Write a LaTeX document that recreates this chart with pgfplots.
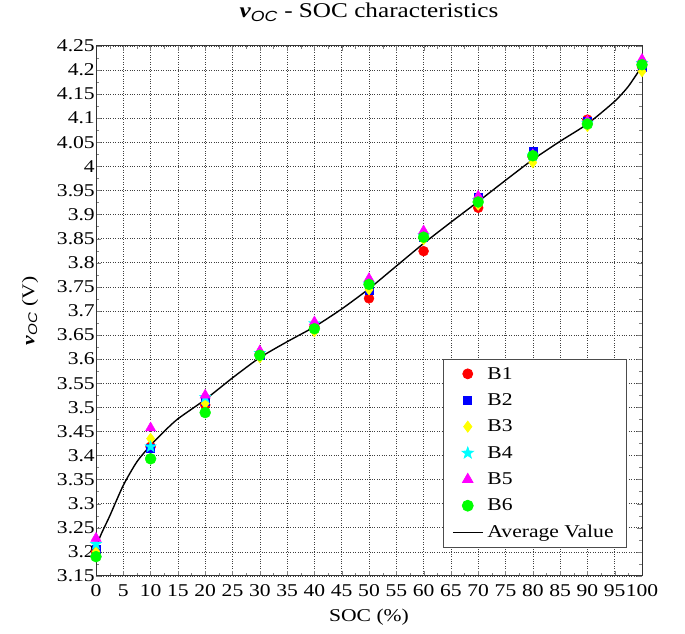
\documentclass[border=0pt]{standalone}
\usepackage{fontspec}
\setmainfont{Liberation Serif}[FakeStretch=1.2]
\setsansfont{Liberation Sans}[FakeStretch=1.2]
\usepackage{pgfplots}
\pgfplotsset{compat=1.18}

\definecolor{cB1}{RGB}{255,0,0}
\definecolor{cB2}{RGB}{0,0,255}
\definecolor{cB3}{RGB}{255,255,0}
\definecolor{cB4}{RGB}{0,255,255}
\definecolor{cB5}{RGB}{255,0,255}
\definecolor{cB6}{RGB}{0,255,0}

% filled five point star (MATLAB 'p')
\pgfdeclareplotmark{pentastar}{%
  \pgfpathmoveto{\pgfpoint{0pt}{\pgfplotmarksize}}%
  \pgfpathlineto{\pgfpoint{-0.235\pgfplotmarksize}{0.324\pgfplotmarksize}}%
  \pgfpathlineto{\pgfpoint{-0.951\pgfplotmarksize}{0.309\pgfplotmarksize}}%
  \pgfpathlineto{\pgfpoint{-0.380\pgfplotmarksize}{-0.124\pgfplotmarksize}}%
  \pgfpathlineto{\pgfpoint{-0.588\pgfplotmarksize}{-0.809\pgfplotmarksize}}%
  \pgfpathlineto{\pgfpoint{0pt}{-0.4\pgfplotmarksize}}%
  \pgfpathlineto{\pgfpoint{0.588\pgfplotmarksize}{-0.809\pgfplotmarksize}}%
  \pgfpathlineto{\pgfpoint{0.380\pgfplotmarksize}{-0.124\pgfplotmarksize}}%
  \pgfpathlineto{\pgfpoint{0.951\pgfplotmarksize}{0.309\pgfplotmarksize}}%
  \pgfpathlineto{\pgfpoint{0.235\pgfplotmarksize}{0.324\pgfplotmarksize}}%
  \pgfpathclose
  \pgfusepathqfillstroke}

\newcommand{\voc}{\textbf{\textit{v}}\textsubscript{\textit{\sffamily OC}}}

\begin{document}
\begin{tikzpicture}
\begin{axis}[
    name=ax,
    width=546pt, height=530pt, scale only axis,
    xmin=0, xmax=100, ymin=3.15, ymax=4.25,
    xtick distance=5, ytick distance=0.05,
    minor x tick num=1, minor y tick num=1,
    tick align=inside, tick pos=both,
    major tick length=5pt, minor tick length=3pt,
    grid=major, major grid style={dotted, black!75, line width=0.6pt},
    axis line style={black!80, line width=0.8pt},
    font=\fontsize{18}{20}\selectfont,
    tick label style={font=\fontsize{18}{18}\selectfont},
    xticklabel style={/pgf/number format/fixed, inner xsep=0pt, yshift=-5pt},
    yticklabel style={/pgf/number format/fixed, /pgf/number format/precision=2, inner xsep=1pt},
    /pgf/number format/assume math mode=true,
    title={\fontsize{21}{23}\selectfont\voc{} - SOC characteristics},
    title style={at={(0.5,1)}, anchor=base, yshift=22pt},
    xlabel={SOC (\%)},
    xlabel style={at={(0.5,0)}, anchor=base, yshift=-46pt},
    ylabel={\voc{} (V)},
    ylabel style={at={(-0.1209,0.5)}, anchor=center},
    legend style={at={(0.9725,0.053)}, anchor=south east, draw=black!70, line width=0.8pt,
        font=\fontsize{18}{20}\selectfont, row sep=9pt, inner xsep=9pt, inner ysep=6pt,
        nodes={inner xsep=4pt}},
    legend cell align=left,
    legend image code/.code={\draw[mark repeat=2,mark phase=2,#1] plot coordinates {(0pt,0pt) (15pt,0pt) (30pt,0pt)};},
]
\addplot[only marks, mark=*, mark size=5pt, color=cB1] coordinates {
 (0,3.200) (10,3.418) (20,3.505) (30,3.608) (40,3.667) (50,3.726) (60,3.824) (70,3.914) (80,4.020) (90,4.097) (100,4.207)};
\addlegendentry{B1}
\addplot[only marks, mark=square*, mark size=4pt, color=cB2] coordinates {
 (0,3.205) (10,3.414) (20,3.513) (30,3.609) (40,3.668) (50,3.742) (60,3.852) (70,3.935) (80,4.031) (90,4.093) (100,4.205)};
\addlegendentry{B2}
\addplot[only marks, mark=diamond*, mark size=5.5pt, color=cB3] coordinates {
 (0,3.200) (10,3.435) (20,3.508) (30,3.603) (40,3.657) (50,3.744) (60,3.848) (70,3.920) (80,4.008) (90,4.083) (100,4.197)};
\addlegendentry{B3}
\addplot[only marks, mark=pentastar, mark size=6pt, color=cB4] coordinates {
 (0,3.216) (10,3.418) (20,3.521) (30,3.612) (40,3.674) (50,3.756) (60,3.856) (70,3.930) (80,4.022) (90,4.090) (100,4.214)};
\addlegendentry{B4}
\addplot[only marks, mark=triangle*, mark size=6pt, color=cB5] coordinates {
 (0,3.228) (10,3.457) (20,3.525) (30,3.617) (40,3.677) (50,3.767) (60,3.866) (70,3.938) (80,4.024) (90,4.094) (100,4.222)};
\addlegendentry{B5}
\addplot[only marks, mark=*, mark size=5.5pt, color=cB6] coordinates {
 (0,3.190) (10,3.393) (20,3.489) (30,3.608) (40,3.663) (50,3.755) (60,3.853) (70,3.926) (80,4.022) (90,4.088) (100,4.211)};
\addlegendentry{B6}
\addplot[black, line width=1.4pt, smooth, tension=0.4, no marks] coordinates {
 (0,3.210) (1,3.238) (2.5,3.274) (5,3.338) (7.5,3.387) (10,3.421) (12.5,3.450)
 (15,3.476) (20,3.516) (25,3.561) (30,3.603) (35,3.636) (40,3.667)
 (45,3.704) (50,3.746) (55,3.793) (60,3.840) (65,3.884) (70,3.927) (75,3.971)
 (80,4.014) (85,4.052) (90,4.088) (95,4.135) (97.5,4.166) (100,4.208)};
\addlegendentry{Average Value}
\end{axis}
\path ([xshift=-96pt,yshift=-58pt]ax.south west) rectangle ([xshift=43pt,yshift=44pt]ax.north east);
\end{tikzpicture}
\end{document}
